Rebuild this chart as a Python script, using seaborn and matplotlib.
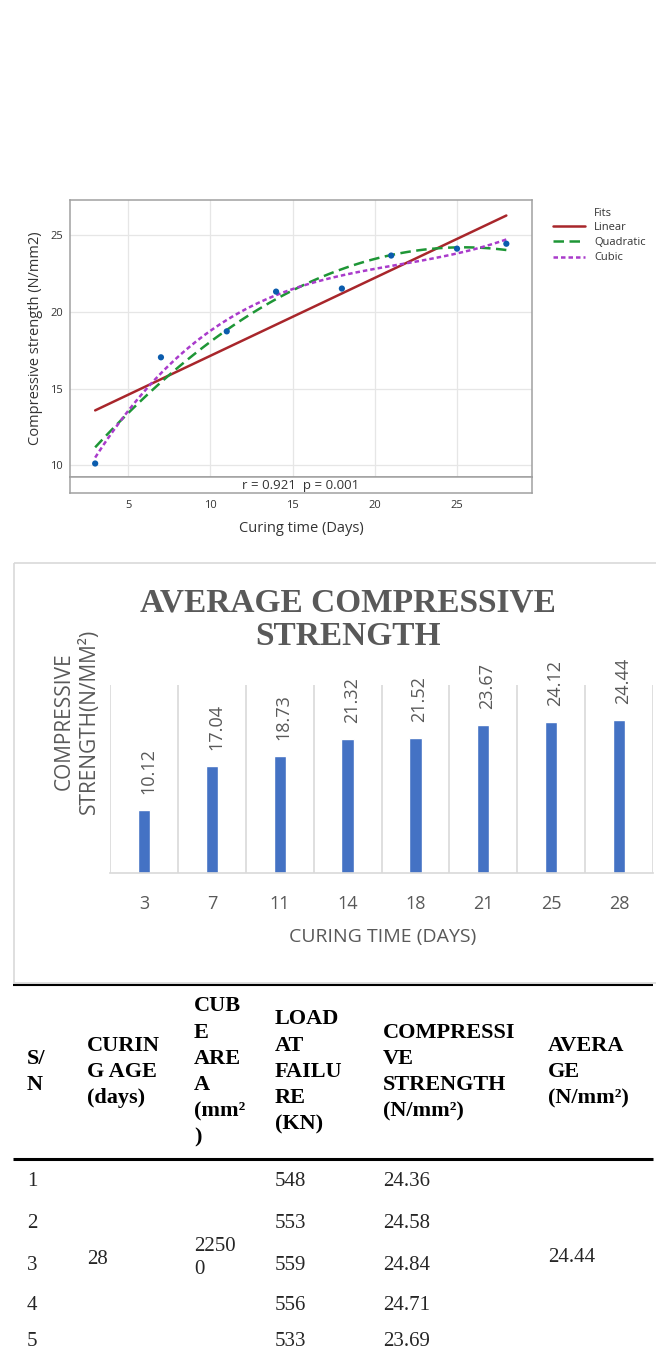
import numpy as np
import matplotlib
matplotlib.use('Agg')
import matplotlib.pyplot as plt
import seaborn as sns
from matplotlib.patches import Rectangle

# data
curing_days = [3, 7, 11, 14, 18, 21, 25, 28]
avg_strength = [10.12, 17.04, 18.73, 21.32, 21.52, 23.67, 24.12, 24.44]

fit_names = ['Linear', 'Quadratic', 'Cubic']
fit_orders = [1, 2, 3]
fit_colors = ['#A8262B', '#1E9636', '#A93BCB']
fit_dashes = [None, (4.2, 2.2), (1.8, 1.2)]
stats_text = 'r = 0.921  p = 0.001'

table_headers = ['S/\nN', 'CURIN\nG AGE\n(days)', 'CUB\nE\nARE\nA\n(mm²\n)',
                 'LOAD\nAT\nFAILU\nRE\n(KN)', 'COMPRESSI\nVE\nSTRENGTH\n(N/mm²)',
                 'AVERA\nGE\n(N/mm²)']
table_sn = ['1', '2', '3', '4', '5']
table_age = '28'
table_area = '2250\n0'
table_load = ['548', '553', '559', '556', '533']
table_strength = ['24.36', '24.58', '24.84', '24.71', '23.69']
table_average = '24.44'

W, H = 656, 1353
sns.set_style('white')
plt.rcParams['font.family'] = ['Open Sans', 'DejaVu Sans']

fig = plt.figure(figsize=(W / 100, H / 100), dpi=100)


def px_axes(left, top, right, bottom, **kw):
    return fig.add_axes([left / W, 1 - bottom / H, (right - left) / W, (bottom - top) / H], **kw)


# background axes in pixel coordinates for loose text, box and table
bg = fig.add_axes([0, 0, 1, 1], zorder=-1)
bg.set_xlim(0, W)
bg.set_ylim(H, 0)
bg.axis('off')

# ---- regression plot ----
frame = '#A0A0A0'
ax = px_axes(70, 200, 532, 477)
for order, name, color, dash in zip(fit_orders, fit_names, fit_colors, fit_dashes):
    kws = dict(color=color, lw=1.8)
    if dash is not None:
        kws['dashes'] = dash
    sns.regplot(x=curing_days, y=avg_strength, order=order, ci=None, scatter=False,
                truncate=True, ax=ax, label=name, line_kws=kws)
sns.scatterplot(x=curing_days, y=avg_strength, ax=ax, color='#0B5CAD', s=20,
                edgecolor='none', zorder=5, legend=False)
if ax.get_legend() is not None:
    ax.get_legend().remove()
ax.set_xlim(1.47, 29.56)
ax.set_ylim(9.24, 27.29)
ax.set_xticks([5, 10, 15, 20, 25])
ax.set_yticks([10, 15, 20, 25])
ax.grid(True, color='#E6E6E6', lw=0.9)
ax.set_xlabel('')
ax.set_ylabel('')
ax.tick_params(axis='x', length=0, labelbottom=False)
ax.tick_params(axis='y', length=3, color=frame, labelsize=8, labelcolor='#333333', pad=2)
for s in ax.spines.values():
    s.set_color(frame)
    s.set_linewidth(1.1)

strip = px_axes(70, 477, 532, 493, sharex=ax)
strip.set_yticks([])
strip.tick_params(axis='x', length=3, color=frame, labelsize=8, labelcolor='#333333', pad=2)
for s in strip.spines.values():
    s.set_color(frame)
    s.set_linewidth(1.1)
strip.text(0.5, 0.45, stats_text, transform=strip.transAxes, ha='center', va='center',
           fontsize=9.5, color='#333333')

bg.text(36, 338, 'Compressive strength (N/mm2)', rotation=90, ha='center', va='center',
        fontsize=10.5, color='#333333')
bg.text(301, 528, 'Curing time (Days)', ha='center', va='center', fontsize=10.5, color='#333333')

handles, labels = ax.get_legend_handles_labels()
fig.legend(handles, labels, loc='upper left', bbox_to_anchor=(553 / W, 1 - 222 / H),
           frameon=False, borderpad=0, borderaxespad=0, fontsize=8, handlelength=2.9,
           handletextpad=0.8, labelspacing=0.38, labelcolor='#333333')
bg.text(594, 213, 'Fits', ha='left', va='center', fontsize=8, color='#333333')

# ---- bar chart ----
gray = '#595959'
bg.add_patch(Rectangle((14, 563), 660, 420, fill=False, edgecolor='#D9D9D9', lw=1.2))
bx = px_axes(110, 685, 653, 873)
sns.barplot(x=curing_days, y=avg_strength, color='#4472C4', saturation=1, width=0.18,
            errorbar=None, ax=bx)
for patch, value in zip(bx.patches, avg_strength):
    bx.annotate(f'{value:.2f}', (patch.get_x() + patch.get_width() / 2, patch.get_height()),
                xytext=(3, 11.5), textcoords='offset points', rotation=90, ha='center',
                va='bottom', fontsize=13, color=gray)
bx.set_xlim(-0.5, len(curing_days) - 0.5)
bx.set_ylim(0, 30)
bx.set_yticks([])
bx.set_xlabel('')
bx.set_ylabel('')
bx.set_xticks(np.arange(-0.5, len(curing_days), 1), minor=True)
bx.grid(True, which='minor', axis='x', color='#D9D9D9', lw=1.2)
bx.tick_params(axis='x', which='both', length=0, labelsize=13, labelcolor=gray, pad=16)
for side in ['top', 'left', 'right']:
    bx.spines[side].set_visible(False)
bx.spines['bottom'].set_color('#D9D9D9')
bx.spines['bottom'].set_linewidth(1.2)

bg.text(348, 620, 'AVERAGE COMPRESSIVE\nSTRENGTH', ha='center', va='center', fontsize=24,
        fontweight='bold', family='Liberation Serif', color=gray, linespacing=1.12)
bg.text(77, 721, 'COMPRESSIVE\nSTRENGTH(N/MM²)', rotation=90, ha='center', va='center',
        multialignment='center', fontsize=15, color=gray, linespacing=1.3)
bg.text(383, 937, 'CURING TIME (DAYS)', ha='center', va='center', fontsize=14, color=gray)

# ---- table ----
serif = ['Liberation Serif', 'DejaVu Serif']
col_x = [27, 87, 194, 275, 383, 548]
bg.plot([13, 653], [985, 985], color='black', lw=1.5, solid_capstyle='butt')
bg.plot([13, 653], [1159, 1159], color='black', lw=2.2, solid_capstyle='butt')
for x, head in zip(col_x, table_headers):
    bg.text(x, 1072, head, ha='left', va='center', fontsize=16, fontweight='bold',
            family=serif, color='black', linespacing=1.42)
row_y = [1182, 1223, 1265, 1305, 1342]
for y, sn, load, strength in zip(row_y, table_sn, table_load, table_strength):
    bg.text(col_x[0], y, sn, ha='left', va='center', fontsize=15, family=serif)
    bg.text(col_x[3], y, load, ha='left', va='center', fontsize=15, family=serif)
    bg.text(col_x[4], y, strength, ha='left', va='center', fontsize=15, family=serif)
bg.text(col_x[1], 1259, table_age, ha='left', va='center', fontsize=15, family=serif)
bg.text(col_x[2], 1258, table_area, ha='left', va='center', fontsize=15, family=serif,
        linespacing=1.35)
bg.text(col_x[5], 1258, table_average, ha='left', va='center', fontsize=15, family=serif)

fig.savefig('out.png', dpi=100)
plt.close(fig)
